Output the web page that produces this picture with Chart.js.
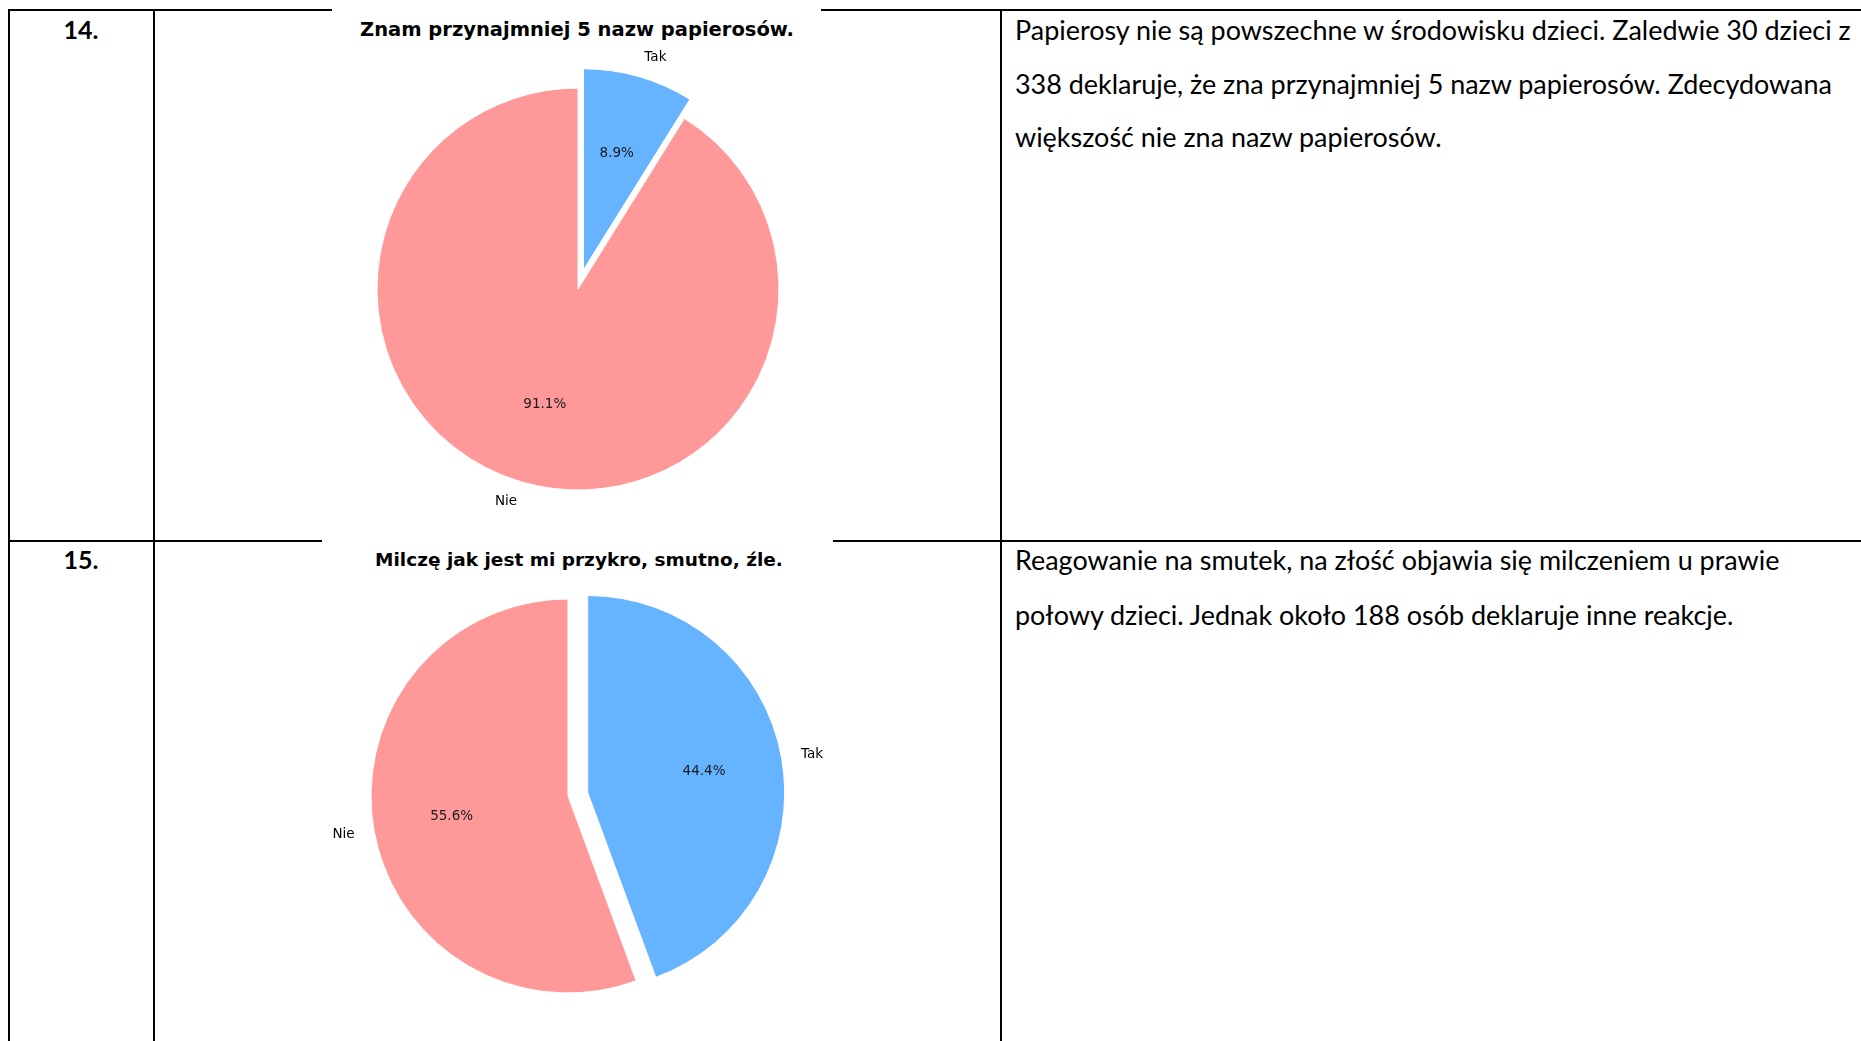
<!DOCTYPE html>
<html lang="pl">
<head>
<meta charset="utf-8">
<title>Ankieta – pytania 14 i 15</title>
<script src="https://cdn.jsdelivr.net/npm/chart.js@4.4.1/dist/chart.umd.min.js"></script>
<style>
  html, body { margin: 0; padding: 0; background: #fff; width: 1861px; height: 1041px; overflow: hidden; }
  body { position: relative; }
  .rule { position: absolute; background: #000; }
  .num { position: absolute; font: 700 25px Lato, sans-serif; line-height: 25px; color: #000; transform: translateX(-50%); }
  .chartBg { position: absolute; background: #fff; }
  .ctitle { position: absolute; font: 700 19.5px "DejaVu Sans", sans-serif; line-height: 19.5px; color: #000;
            white-space: nowrap; transform: translateX(-50%); }
  .desc { position: absolute; left: 1015px; font-family: Lato, sans-serif; font-size: 20px; line-height: 53.5px; color: #000; white-space: nowrap; }
  canvas { position: absolute; }
</style>
</head>
<body>
  <!-- table rules -->
  <div class="rule" style="left:8px; top:9px; width:1853px; height:2px"></div>
  <div class="rule" style="left:8px; top:540px; width:1853px; height:2px"></div>
  <div class="rule" style="left:8px; top:9px; width:2px; height:1032px"></div>
  <div class="rule" style="left:153px; top:9px; width:2px; height:1032px"></div>
  <div class="rule" style="left:1000px; top:9px; width:2px; height:1032px"></div>

  <div class="num" style="left:81px; top:17px">14.</div>
  <div class="num" style="left:81px; top:547px">15.</div>

  <!-- chart images sit over the cell borders -->
  <div class="chartBg" style="left:332px; top:4px; width:489px; height:530px"></div>
  <div class="chartBg" style="left:322px; top:536px; width:511px; height:505px"></div>

  <div class="ctitle" style="left:577px; top:20px">Znam przynajmniej 5 nazw papierosów.</div>
  <div class="ctitle" style="left:579px; top:550px; font-size:18.5px; line-height:19.5px">Milczę jak jest mi przykro, smutno, źle.</div>

  <canvas id="q14" width="520" height="540" style="left:318px; top:19px"></canvas>
  <canvas id="q15" width="520" height="520" style="left:308px; top:536px"></canvas>

  <div class="desc" style="top:3px">
    <div><span id="fitLine">Papierosy nie są powszechne w środowisku dzieci. Zaledwie 30 dzieci z</span></div>
    <div>338 deklaruje, że zna przynajmniej 5 nazw papierosów. Zdecydowana</div>
    <div>większość nie zna nazw papierosów.</div>
  </div>
  <div class="desc" style="top:533px; line-height:54.5px">
    <div>Reagowanie na smutek, na złość objawia się milczeniem u prawie</div>
    <div>połowy dzieci. Jednak około 188 osób deklaruje inne reakcje.</div>
  </div>

<script>
// answers, in drawing order (clockwise from 12 o'clock)
const categories = ["Tak", "Nie"];
const q14Counts = [30, 308];   // 30 z 338
const q15Counts = [150, 188];  // 188 osób – inne reakcje
const sliceColors = ["#66b3ff", "#ff9999"];

// first description line spans ~836px in the source; size the body text to it
(function fitDescription() {
  const span = document.getElementById("fitLine");
  const w = span.getBoundingClientRect().width;
  const size = 20 * 836 / w;
  document.querySelectorAll(".desc").forEach((d) => (d.style.fontSize = size + "px"));
})();

// Pulls a slice out along its bisector (pure shift, like matplotlib's explode).
// Chart.js' own `offset` also grows the radius, so the arcs are drawn here instead.
const explodeSlices = {
  id: "explodeSlices",
  beforeDatasetDraw(chart, args) {
    const shifts = chart.data.datasets[args.index].explode || [];
    const ctx = chart.ctx;
    args.meta.data.forEach((arc, i) => {
      const mid = (arc.startAngle + arc.endAngle) / 2;
      const d = shifts[i] || 0;
      ctx.save();
      ctx.translate(Math.cos(mid) * d, Math.sin(mid) * d);
      arc.draw(ctx, chart.chartArea);
      ctx.restore();
    });
    return false;
  },
};

// Category name at 1.1 r, percentage at 0.6 r.
const pieLabels = {
  id: "pieLabels",
  afterDatasetsDraw(chart) {
    const ds = chart.data.datasets[0];
    const shifts = ds.explode || [];
    const total = ds.data.reduce((a, b) => a + b, 0);
    const ctx = chart.ctx;
    ctx.save();
    ctx.font = '13.5px "DejaVu Sans"';
    ctx.textBaseline = "middle";
    chart.getDatasetMeta(0).data.forEach((arc, i) => {
      const mid = (arc.startAngle + arc.endAngle) / 2;
      const dx = Math.cos(mid);
      const dy = Math.sin(mid);
      const cx = arc.x + dx * (shifts[i] || 0);
      const cy = arc.y + dy * (shifts[i] || 0);
      const r = arc.outerRadius;

      ctx.fillStyle = "#000";
      ctx.textAlign = dx > 0 ? "left" : "right";
      ctx.fillText(chart.data.labels[i], cx + dx * r * 1.1, cy + dy * r * 1.1);

      ctx.fillStyle = "#1a1a1a";
      ctx.textAlign = "center";
      const pct = ((ds.data[i] / total) * 100).toFixed(1) + "%";
      ctx.fillText(pct, cx + dx * r * 0.6, cy + dy * r * 0.6);
    });
    ctx.restore();
  },
};

function buildPie(canvasId, counts, explode, radius) {
  return new Chart(document.getElementById(canvasId), {
    type: "pie",
    data: {
      labels: categories,
      datasets: [{
        data: counts,
        backgroundColor: sliceColors,
        borderColor: "#fff",
        borderWidth: 1,
        radius,
        explode,
      }],
    },
    options: {
      responsive: false,
      devicePixelRatio: 1,
      animation: false,
      events: [],
      layout: { padding: 0 },
      plugins: { legend: { display: false }, tooltip: { enabled: false }, title: { display: false } },
    },
    plugins: [explodeSlices, pieLabels],
  });
}

buildPie("q14", q14Counts, [20, 0], 201);
buildPie("q15", q15Counts, [20, 0], 197);
</script>
</body>
</html>
